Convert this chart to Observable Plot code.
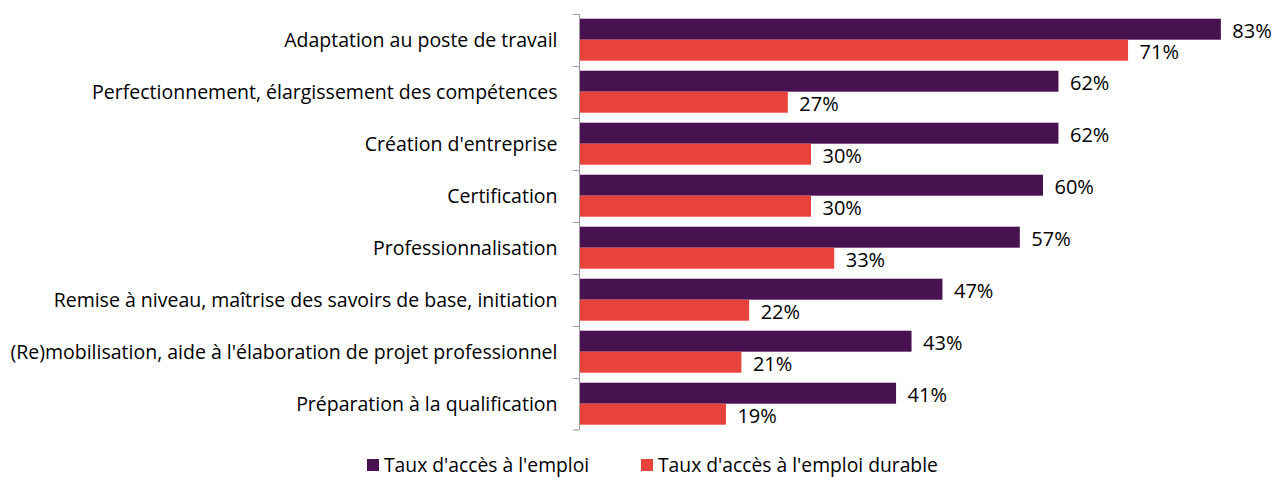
<!DOCTYPE html>
<html>
<head>
<meta charset="utf-8">
<script src="https://cdn.jsdelivr.net/npm/d3@7"></script>
<script src="https://cdn.jsdelivr.net/npm/@observablehq/plot@0.6"></script>
<style>
  body { margin: 0; background: #fff; font-family: "Open Sans", Lato, sans-serif; }
  #legend { position: relative; height: 37px; font-size: 19.3px; line-height: 1.15; color: #000; }
  .item { position: absolute; top: 14px; display: flex; align-items: center; white-space: nowrap; }
  .sw { width: 12px; height: 12px; margin-right: 5px; }
</style>
</head>
<body>
<div id="chart"></div>
<script>
const categories = [
  "Adaptation au poste de travail",
  "Perfectionnement, élargissement des compétences",
  "Création d'entreprise",
  "Certification",
  "Professionnalisation",
  "Remise à niveau, maîtrise des savoirs de base, initiation",
  "(Re)mobilisation, aide à l'élaboration de projet professionnel",
  "Préparation à la qualification"
];
const series = ["Taux d'accès à l'emploi", "Taux d'accès à l'emploi durable"];
const emploi = [83, 62, 62, 60, 57, 47, 43, 41];
const durable = [71, 27, 30, 30, 33, 22, 21, 19];
const colors = ["#47124f", "#e8423c"];

const rows = [];
categories.forEach((c, i) => {
  rows.push({category: c, series: series[0], value: emploi[i]});
  rows.push({category: c, series: series[1], value: durable[i]});
});

const H = 440, mTop = 13.3, mBot = 8.3;
const facetH = (H - mTop - mBot) / categories.length;
const step = facetH / 2.4;
const edge = 0.5 * step + 0.2 * step;

const plot = Plot.plot({
  width: 1275,
  height: H,
  marginLeft: 579,
  marginRight: 0,
  marginTop: mTop,
  marginBottom: mBot,
  x: {domain: [0, 90], axis: null},
  y: {domain: series, axis: null, paddingInner: 0, paddingOuter: 0.2},
  fy: {domain: categories, padding: 0, axis: null},
  color: {domain: series, range: colors},
  style: {fontFamily: "'Open Sans', Lato, sans-serif", fontSize: "19.5px", color: "#000", background: "#fff"},
  marks: [
    Plot.barX(rows, {x: "value", y: "series", fy: "category", fill: "series"}),
    Plot.text(rows, {x: "value", y: "series", fy: "category", text: d => d.value + "%", textAnchor: "start", dx: 11, dy: 2, fontSize: 20, fill: "#000"}),
    Plot.ruleX(categories, {x: () => 0, fy: d => d, stroke: "#999", strokeWidth: 1}),
    Plot.ruleY(categories, {y: () => series[0], fy: d => d, x1: -0.8, x2: 0, dy: -edge, stroke: "#999"}),
    Plot.ruleY(categories.slice(-1), {y: () => series[1], fy: d => d, x1: -0.8, x2: 0, dy: edge, stroke: "#999"}),
    Plot.axisFy({anchor: "left", tickSize: 0, tickPadding: 22, fontSize: 19.5, label: null, fill: "#000"})
  ]
});
document.getElementById("chart").appendChild(plot);

const legend = document.createElement("div");
legend.id = "legend";
const lefts = [367, 641];
series.forEach((s, i) => {
  const it = document.createElement("div");
  it.className = "item";
  it.style.left = lefts[i] + "px";
  const sw = document.createElement("span");
  sw.className = "sw";
  sw.style.background = colors[i];
  const t = document.createElement("span");
  t.textContent = s;
  it.appendChild(sw);
  it.appendChild(t);
  legend.appendChild(it);
});
document.getElementById("chart").appendChild(legend);
</script>
</body>
</html>
